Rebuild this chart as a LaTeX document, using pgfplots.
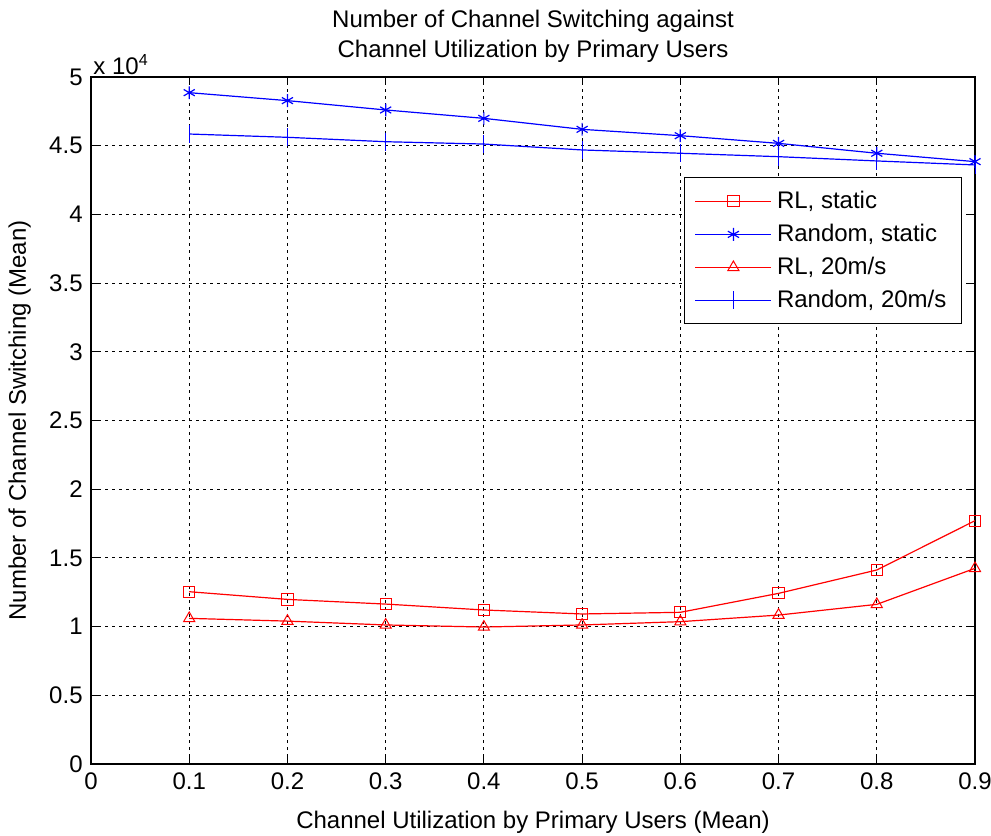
\documentclass[border=0pt]{standalone}
\usepackage{fontspec}
\setmainfont{Liberation Sans}
\usepackage{pgfplots}
\pgfplotsset{compat=1.18}
\begin{document}
\fontsize{12}{15}\selectfont
\begin{tikzpicture}
\begin{axis}[
  name=ax,
  scale only axis,
  width=442pt, height=343.5pt,
  xmin=0, xmax=0.9, ymin=0, ymax=5,
  xtick={0,0.1,...,0.9},
  xticklabels={0,0.1,0.2,0.3,0.4,0.5,0.6,0.7,0.8,0.9},
  ytick={0,0.5,...,5},
  yticklabels={0,0.5,1,1.5,2,2.5,3,3.5,4,4.5,5},
  /pgf/number format/assume math mode=true,
  ticklabel style={font=\fontsize{12}{14}\selectfont},
  tick align=inside,
  major tick length=4pt,
  tick style={black, line width=0.5pt},
  axis line style={black, line width=0.7pt},
  grid=major,
  major grid style={black, line width=0.5pt, dash pattern=on 1.5pt off 2pt},
  title={Number of Channel Switching against\\Channel Utilization by Primary Users},
  title style={align=center, font=\fontsize{12}{15}\selectfont, yshift=-3pt},
  xlabel={Channel Utilization by Primary Users (Mean)},
  ylabel={Number of Channel Switching (Mean)},
  label style={font=\fontsize{12}{14}\selectfont},
  xlabel style={yshift=-2.5pt},
  ylabel style={yshift=1pt},
  legend style={at={(0.9853,0.854)}, anchor=north east, draw=black, line width=0.6pt,
    font=\fontsize{12}{14}\selectfont, row sep=1pt, inner xsep=5pt, inner ysep=4pt,
    nodes={inner sep=2.5pt}},
  legend cell align=left,
  legend image code/.code={\draw[mark repeat=2,mark phase=2] plot coordinates {(0pt,0pt) (19pt,0pt) (38pt,0pt)};},
  every axis plot/.append style={line width=0.6pt},
  clip=false,
]
\addplot[red, mark=square, mark size=2.8pt, mark options={solid, line width=0.5pt}] coordinates {
(0.1,1.254) (0.2,1.198) (0.3,1.164) (0.4,1.121) (0.5,1.092) (0.6,1.104) (0.7,1.242) (0.8,1.412) (0.9,1.771)};
\addlegendentry{RL, static}
\addplot[blue, mark=asterisk, mark size=3.2pt, mark options={solid, line width=0.6pt}] coordinates {
(0.1,4.886) (0.2,4.828) (0.3,4.760) (0.4,4.699) (0.5,4.619) (0.6,4.573) (0.7,4.517) (0.8,4.445) (0.9,4.384)};
\addlegendentry{Random, static}
\addplot[red, mark=triangle, mark size=3.2pt, mark options={solid, line width=0.5pt}] coordinates {
(0.1,1.060) (0.2,1.040) (0.3,1.012) (0.4,0.997) (0.5,1.012) (0.6,1.036) (0.7,1.084) (0.8,1.162) (0.9,1.424)};
\addlegendentry{RL, 20m/s}
\addplot[blue, mark=|, mark size=4.5pt, mark options={solid, line width=0.5pt}] coordinates {
(0.1,4.585) (0.2,4.561) (0.3,4.529) (0.4,4.512) (0.5,4.469) (0.6,4.445) (0.7,4.420) (0.8,4.389) (0.9,4.360)};
\addlegendentry{Random, 20m/s}
\node[anchor=south west, inner sep=1pt, font=\fontsize{12}{14}\selectfont] at (rel axis cs:0,1) {x 10\textsuperscript{4}};
\end{axis}
\pgfresetboundingbox
\path ([xshift=-45.5pt,yshift=-35.5pt]ax.south west) rectangle ([xshift=8pt,yshift=38.5pt]ax.north east);
\end{tikzpicture}
\end{document}
